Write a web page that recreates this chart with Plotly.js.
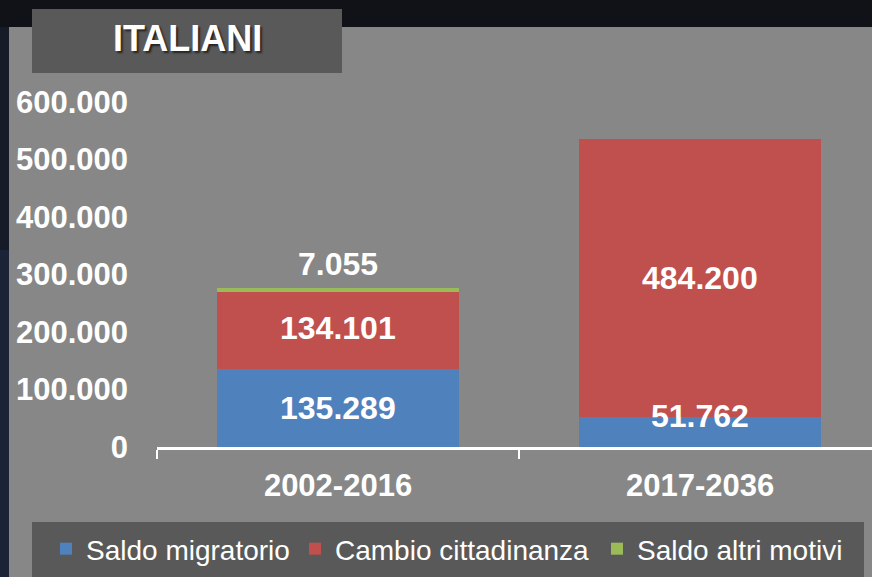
<!DOCTYPE html>
<html>
<head>
<meta charset="utf-8">
<script src="https://cdn.plot.ly/plotly-3.0.1.min.js"></script>
<style>html,body{margin:0;padding:0;background:#12161f;}#chart{width:872px;height:577px;}</style>
</head>
<body>
<div id="chart"></div>
<script>
// ---- data ----
const categories = ["2002-2016", "2017-2036"];
const seriesNames = ["Saldo migratorio", "Cambio cittadinanza", "Saldo altri motivi"];
const saldoMigratorio = [135289, 51762];
const cambioCittadinanza = [134101, 484200];
const saldoAltriMotivi = [7055, 0];
const yTickValues = [0, 100000, 200000, 300000, 400000, 500000, 600000];
const chartTitle = "ITALIANI";

// ---- styles ----
const colors = ["#4f81bd", "#c0504d", "#9bbb59"];
const W = 872, H = 577;
const px = v => v / W, py = v => 1 - v / H;
const FONT = "Liberation Sans, Arial, sans-serif";

const series = [saldoMigratorio, cambioCittadinanza, saldoAltriMotivi];
const legendIds = ["legend", "legend2", "legend3"];
const legendX = [46, 295, 597];
const traces = series.map((vals, i) => ({
  type: "bar",
  name: seriesNames[i],
  x: categories,
  y: vals,
  legend: legendIds[i],
  marker: {color: colors[i], line: {width: 0}},
  hoverinfo: "none"
}));

// labels: centered on each segment; small top segment labelled above
const fmt = v => v.toLocaleString("de-DE");
const annotations = [];
const labelShift = [[0, 0], [0, 0], [0, 0]];
labelShift[0][1] = 16;
labelShift[1][0] = 3;
categories.forEach((c, j) => {
  let base = 0;
  series.forEach((vals, i) => {
    const v = vals[j];
    if (v > 0) {
      const small = v < 20000;
      annotations.push({
        x: c, y: small ? base + v : base + v / 2, xref: "x", yref: "y",
        text: fmt(v), showarrow: false,
        yanchor: small ? "bottom" : "middle",
        yshift: small ? 4 : labelShift[i][j],
        font: {family: FONT, size: 32, color: "#ffffff", weight: "bold"}
      });
    }
    base += v;
  });
});
annotations.push({
  xref: "paper", yref: "paper", x: px(187), y: py(39),
  text: chartTitle, showarrow: false, xanchor: "center", yanchor: "middle",
  font: {family: FONT, size: 36, color: "#ffffff", weight: "bold",
         shadow: "2px 2px 2px rgba(0,0,0,0.6)"}
});

const shapes = [
  {type: "rect", xref: "paper", yref: "paper", x0: 0, x1: px(9), y0: 0, y1: 1, fillcolor: "#1b2437", line: {width: 0}, layer: "below"},
  {type: "rect", xref: "paper", yref: "paper", x0: 0, x1: px(9), y0: py(250), y1: 1, fillcolor: "#151b27", line: {width: 0}, layer: "below"},
  {type: "rect", xref: "paper", yref: "paper", x0: 0, x1: 1, y0: py(27), y1: 1, fillcolor: "#101217", line: {width: 0}, layer: "below"},
  {type: "rect", xref: "paper", yref: "paper", x0: px(9), x1: 1, y0: 0, y1: py(27), fillcolor: "#878787", line: {width: 0}, layer: "below"},
  {type: "rect", xref: "paper", yref: "paper", x0: px(32), x1: px(342), y0: py(73), y1: py(9), fillcolor: "#595959", line: {width: 0}, layer: "below"},
  {type: "rect", xref: "paper", yref: "paper", x0: px(32), x1: px(864), y0: py(577), y1: py(522), fillcolor: "#595959", line: {width: 0}, layer: "below"}
];

const legendStyle = x => ({
  orientation: "h", x: px(x), y: py(549), xanchor: "left", yanchor: "middle",
  bgcolor: "rgba(0,0,0,0)",
  font: {family: FONT, size: 28, color: "#ffffff"},
  itemwidth: 30
});

const layout = {
  width: W, height: H,
  margin: {l: 0, r: 0, t: 0, b: 0},
  paper_bgcolor: "#12161f",
  plot_bgcolor: "rgba(0,0,0,0)",
  separators: ",.",
  barmode: "stack",
  bargap: 0.332,
  showlegend: true,
  legend: legendStyle(legendX[0]),
  legend2: legendStyle(legendX[1]),
  legend3: legendStyle(legendX[2]),
  xaxis: {
    domain: [px(157), 1],
    type: "category",
    range: [-0.5, 1.475],
    showline: true, linecolor: "#ffffff", linewidth: 3,
    ticks: "outside", tickson: "boundaries", ticklen: 9, tickwidth: 2, tickcolor: "#ffffff",
    ticklabelstandoff: 9,
    showgrid: false, zeroline: false,
    tickfont: {family: FONT, size: 31, color: "#ffffff", weight: "bold"},
    fixedrange: true
  },
  yaxis: {
    domain: [py(447), py(102)],
    range: [0, 600000],
    tickvals: yTickValues,
    tickformat: ",",
    showgrid: false, zeroline: false, showline: false,
    ticks: "", ticklabelstandoff: 28,
    tickfont: {family: FONT, size: 31, color: "#ffffff", weight: "bold"},
    fixedrange: true
  },
  shapes: shapes,
  annotations: annotations
};

Plotly.newPlot("chart", traces, layout, {displayModeBar: false, staticPlot: true});
</script>
</body>
</html>
